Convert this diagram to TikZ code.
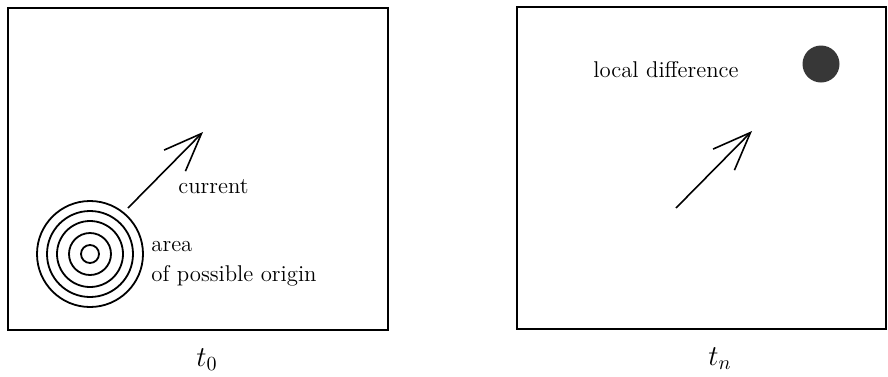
\documentclass[tikz,border=0pt]{standalone}
\usetikzlibrary{arrows.meta, positioning}
\definecolor{spotgray}{RGB}{55,55,55}

\begin{document}
\begin{tikzpicture}[
            x=0.5pt, y=-0.5pt,
            frame/.style={draw, line width=0.9pt, inner sep=0pt, anchor=north west},
            lbl/.style={font=\fontsize{11.4}{15}\selectfont, inner sep=0pt, anchor=base west},
            timelbl/.style={font=\Large, inner sep=0pt, anchor=base west},
            ring/.style={line width=0.9pt},
            flow/.style={line width=0.8pt, -{Straight Barb[length=19pt, width=15pt, line width=0.8pt]}},
            spot/.style={circle, fill=spotgray, inner sep=0pt, minimum size=18.5pt}
        ]
            \useasboundingbox (0,0) rectangle (888,376);
            % Frames
            \node[frame, minimum width=190pt, minimum height=161pt] (before) at (7,7) {};
            \node[frame, minimum width=184.5pt, minimum height=161pt] (after) at (516,6) {};

            % Area of origin
            \coordinate (origin) at (90,254);
            \foreach \r in {9,21,33,43,53}
                \draw[ring] (origin) circle[radius=\r*0.5pt];

            % Labels
            \node[lbl] (area) at (151,251) {area};
            \node[lbl] (possible) at ([yshift=-15pt]area.base west) {of possible origin};
            \node[lbl] (current) at (178,193) {current};
            \node[lbl] (local) at (593,77) {local difference};
            \node[spot] (diff) at (821,64) {};
            \node[timelbl] (t0) at (196,366) {$t_0$};
            \node[timelbl] (tn) at (708,365) {$t_n$};

            % Arrows
            \coordinate (curA) at (128,208);
            \coordinate (curB) at (203,132);
            \coordinate (curC) at (676,208);
            \coordinate (curD) at (752,131);
            \draw[flow] (curA) -- (curB);
            \draw[flow] (curC) -- (curD);
        \end{tikzpicture}
\end{document}
